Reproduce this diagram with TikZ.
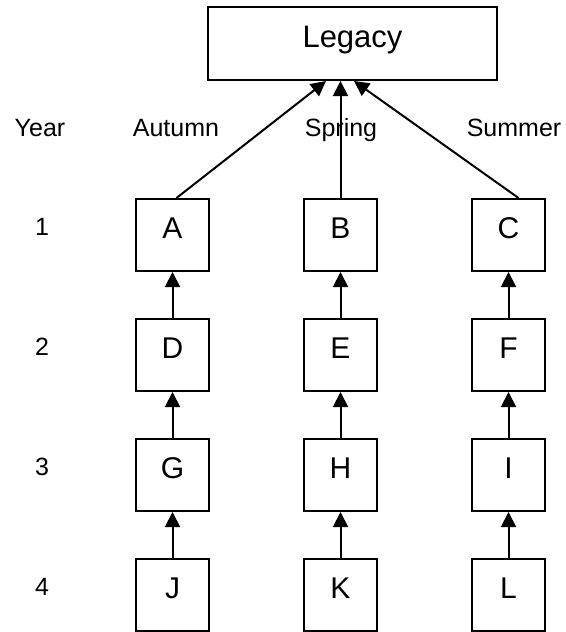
\documentclass[tikz,border=0pt]{standalone}
\usepackage{fontspec}
\setmainfont{Liberation Sans}
\usetikzlibrary{arrows.meta, positioning}

\begin{document}
\begin{tikzpicture}[
    x=0.5pt, y=-0.5pt,
    >={Triangle[length=7.5pt,width=7.5pt]},
    box/.style={
        draw=black,
        line width=1pt,
        minimum width=36.5pt,
        minimum height=36pt,
        inner sep=0pt,
        text height=0.75em,
        text depth=0.4em,
        font=\fontsize{15}{18}\selectfont
    },
    legacybox/.style={
        box,
        minimum width=144.5pt,
        minimum height=36.5pt,
        font=\fontsize{15.5}{18}\selectfont
    },
    heading/.style={
        anchor=base,
        inner sep=0pt,
        font=\fontsize{12.5}{15}\selectfont
    },
    link/.style={
        draw=black,
        line width=1pt,
        ->
    }
]
\useasboundingbox (0,0) rectangle (566,632);

\node[legacybox] (Legacy) at (352.5, 43.5) {Legacy};

% column and row headings
\node[heading] (year) at (40, 136) {Year};
\node[heading] (autumn) at (176, 136) {Autumn};
\node[heading] (spring) at (341, 136) {Spring};
\node[heading] (summer) at (514, 136) {Summer};

\node[heading] (y1) at (42, 235) {1};
\node[heading] (y2) at (42, 355) {2};
\node[heading] (y3) at (42, 475) {3};
\node[heading] (y4) at (42, 595) {4};

% Autumn
\node[box] (A) at (172.5, 235) {A};
\node[box] (D) at (172.5, 355) {D};
\node[box] (G) at (172.5, 475) {G};
\node[box] (J) at (172.5, 595) {J};

% Spring
\node[box] (B) at (340.5, 235) {B};
\node[box] (E) at (340.5, 355) {E};
\node[box] (H) at (340.5, 475) {H};
\node[box] (K) at (340.5, 595) {K};

% Summer
\node[box] (C) at (508.5, 235) {C};
\node[box] (F) at (508.5, 355) {F};
\node[box] (I) at (508.5, 475) {I};
\node[box] (L) at (508.5, 595) {L};

\draw[link] (D) -- (A);
\draw[link] (G) -- (D);
\draw[link] (J) -- (G);

\draw[link] (E) -- (B);
\draw[link] (H) -- (E);
\draw[link] (K) -- (H);

\draw[link] (F) -- (C);
\draw[link] (I) -- (F);
\draw[link] (L) -- (I);

\draw[link] ([xshift=2pt]A.north) -- ([xshift=-13.25pt]Legacy.south);
\draw[link] (B.north) -- (B.north |- Legacy.south);
\draw[link] ([xshift=5pt]C.north) -- ([xshift=0.75pt]Legacy.south);

\end{tikzpicture}
\end{document}
